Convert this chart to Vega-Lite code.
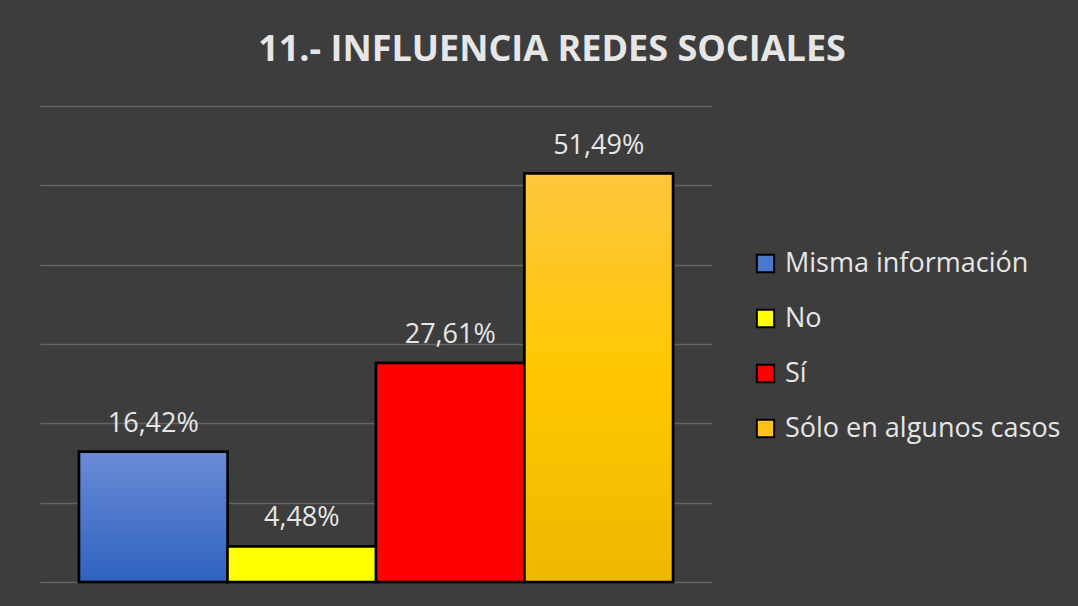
{
  "$schema": "https://vega.github.io/schema/vega-lite/v6.json",
  "width": 672,
  "height": 476,
  "autosize": "none",
  "padding": {"left": 40, "top": 106, "right": 366, "bottom": 24},
  "background": "#3d3d3d",
  "title": {
    "text": "11.- INFLUENCIA REDES SOCIALES",
    "font": "Open Sans",
    "fontSize": 36,
    "fontWeight": "bold",
    "color": "#e6e6e6",
    "anchor": "middle",
    "dx": 176,
    "offset": 37
  },
  "data": {
    "values": [
      {"categoria": "Misma información", "porcentaje": 16.42, "etiqueta": "16,42%"},
      {"categoria": "No", "porcentaje": 4.48, "etiqueta": "4,48%"},
      {"categoria": "Sí", "porcentaje": 27.61, "etiqueta": "27,61%"},
      {"categoria": "Sólo en algunos casos", "porcentaje": 51.49, "etiqueta": "51,49%"}
    ]
  },
  "encoding": {
    "x": {
      "field": "categoria",
      "type": "nominal",
      "sort": null,
      "axis": null,
      "scale": {"paddingInner": 0, "paddingOuter": 0.263}
    },
    "y": {
      "field": "porcentaje",
      "type": "quantitative",
      "scale": {"domain": [0, 60], "nice": false},
      "axis": {
        "values": [0, 10, 20, 30, 40, 50, 60],
        "labels": false,
        "ticks": false,
        "domain": false,
        "title": null,
        "grid": true,
        "gridColor": "#646464",
        "gridWidth": 1.5
      }
    }
  },
  "layer": [
    {
      "mark": {"type": "bar", "stroke": "#000000", "strokeWidth": 2.5},
      "encoding": {
        "color": {
          "field": "categoria",
          "type": "nominal",
          "sort": null,
          "scale": {"range": ["#4a78cc", "#ffff00", "#ff0000", "#ffc21a"]},
          "legend": {
            "orient": "none",
            "legendX": 712,
            "legendY": 144,
            "title": null,
            "symbolType": "square",
            "symbolSize": 300,
            "symbolStrokeColor": "#000000",
            "symbolStrokeWidth": 2,
            "symbolOpacity": 1,
            "labelFont": "Open Sans",
            "labelFontSize": 27,
            "labelColor": "#e6e6e6",
            "labelOffset": 6,
            "rowPadding": 27,
            "labelLimit": 400
          }
        }
      }
    },
    {
      "mark": {"type": "bar", "stroke": "#000000", "strokeWidth": 2.5},
      "encoding": {
        "fill": {
          "condition": [
            {
              "test": "datum.categoria === 'Misma información'",
              "value": {
                "gradient": "linear",
                "x1": 0, "y1": 0, "x2": 0, "y2": 1,
                "stops": [
                  {"offset": 0, "color": "#6a8bd6"},
                  {"offset": 1, "color": "#2f62bf"}
                ]
              }
            },
            {
              "test": "datum.categoria === 'Sólo en algunos casos'",
              "value": {
                "gradient": "linear",
                "x1": 0, "y1": 0, "x2": 0, "y2": 1,
                "stops": [
                  {"offset": 0, "color": "#ffc53d"},
                  {"offset": 0.5, "color": "#ffc800"},
                  {"offset": 1, "color": "#efb700"}
                ]
              }
            },
            {"test": "datum.categoria === 'No'", "value": "#ffff00"}
          ],
          "value": "#ff0000"
        }
      }
    },
    {
      "mark": {
        "type": "text",
        "baseline": "alphabetic",
        "dy": -20,
        "font": "Open Sans",
        "fontSize": 27,
        "color": "#e6e6e6"
      },
      "encoding": {"text": {"field": "etiqueta", "type": "nominal"}}
    }
  ],
  "config": {"view": {"stroke": null}}
}
